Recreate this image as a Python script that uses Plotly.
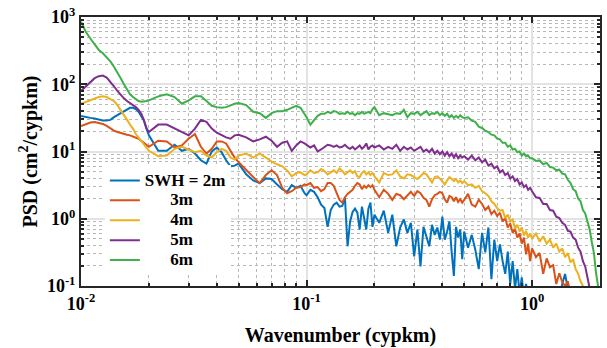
import numpy as np
import plotly.graph_objects as go

# Wavenumber sampling (cycles per km)
wavenumber = [
    0.0100, 0.0105, 0.0110, 0.0115, 0.0120, 0.0125, 0.0130, 0.0135, 0.0140, 0.0145,
    0.0150, 0.0155, 0.0160, 0.0165, 0.0170, 0.0175, 0.0180, 0.0185, 0.0190, 0.0195,
    0.020, 0.022, 0.024, 0.026, 0.028, 0.030, 0.032, 0.034, 0.036, 0.038,
    0.040, 0.042, 0.044, 0.046, 0.048,
    0.050, 0.054, 0.058, 0.062, 0.066, 0.070, 0.074, 0.078, 0.082, 0.086,
    0.090, 0.094, 0.098,
    0.100, 0.104, 0.108, 0.112, 0.116, 0.120, 0.124, 0.128, 0.132, 0.136,
    0.140, 0.144, 0.148, 0.152, 0.156, 0.160, 0.164, 0.168, 0.172, 0.176,
    0.180, 0.184, 0.188, 0.192, 0.196,
    0.20, 0.21, 0.22, 0.23, 0.24, 0.25, 0.26, 0.27, 0.28, 0.29,
    0.30, 0.31, 0.32, 0.33, 0.34, 0.35, 0.36, 0.37, 0.38, 0.39,
    0.40, 0.41, 0.42, 0.43, 0.44, 0.45, 0.46, 0.47, 0.48, 0.49,
    0.50, 0.52, 0.54, 0.56, 0.58, 0.60, 0.62, 0.64, 0.66, 0.68,
    0.70, 0.72, 0.74, 0.76, 0.78, 0.80, 0.82, 0.84, 0.86, 0.88,
    0.90, 0.92, 0.94, 0.96, 0.98,
    1.00, 1.04, 1.08, 1.12, 1.16, 1.20, 1.24, 1.28, 1.32, 1.36,
    1.40, 1.44, 1.48, 1.52, 1.56, 1.60, 1.64, 1.68, 1.72, 1.76,
    1.80, 1.84, 1.88, 1.92, 1.96, 2.00,
]

# log10 of PSD (cm^2/cypkm) for each significant wave height
log_psd_2m = [
    1.53, 1.51, 1.50, 1.49, 1.47, 1.46, 1.46, 1.47, 1.51, 1.54, 1.57, 1.60, 1.63, 1.65, 1.65, 1.63, 1.59, 1.53, 1.46, 1.34,
    1.24, 1.01, 1.01, 1.10, 1.01, 1.04, 0.97, 0.87, 0.82, 1.00, 1.06, 0.99, 0.87, 0.78, 0.79,
    0.82, 0.66, 0.57, 0.53, 0.60, 0.59, 0.51, 0.44, 0.40, 0.50, 0.46, 0.49, 0.38,
    0.35, 0.43, 0.40, 0.32, 0.21, 0.16, -0.12, 0.13, 0.21, 0.24, 0.18, 0.19, 0.31, -0.41, -0.04, 0.10, 0.15, 0.09, -0.16, 0.18,
    0.01, -0.16, 0.15, 0.24, -0.12,
    0.06, -0.06, 0.12, -0.21, 0.06, -0.41, -0.13, -0.01, -0.21, -0.06, -0.56, -0.16, -0.71, -0.12, -0.28, -0.41, -0.09, -0.24,
    -0.13, -0.31, 0.03, -0.31, -0.19, -0.04, -0.50, -0.85, -0.12, -0.28, -0.16, -0.60,
    -0.19, -0.43, -0.24, -0.46, -0.75, -0.21, -0.50, -0.13, -0.90, -0.31, -0.63, -0.38, -0.63, -0.82, -0.49, -0.97, -0.63,
    -1.04, -0.75, -1.12, -0.87, -1.19, -0.97, -1.16, -1.26,
    -1.12, -1.26, -1.19, -1.34, -1.19, -1.34, -1.26, -1.34, -1.26, -0.97, -0.82, -1.07, -1.26, -1.34, -1.34, -1.34, -1.34,
    -1.34, -1.34, -1.34, -1.34, -1.34, -1.34, -1.34, -1.34, -1.34,
]
log_psd_3m = [
    1.38, 1.41, 1.43, 1.44, 1.43, 1.41, 1.38, 1.34, 1.31, 1.29, 1.28, 1.26, 1.25, 1.24, 1.22, 1.21, 1.19, 1.16, 1.13, 1.10,
    1.07, 1.16, 1.15, 1.06, 1.09, 1.19, 1.26, 1.07, 0.97, 1.04, 1.15, 1.15, 1.12, 1.01, 0.91,
    0.84, 0.72, 0.62, 0.53, 0.65, 0.72, 0.65, 0.46, 0.38, 0.41, 0.46, 0.47, 0.51,
    0.50, 0.53, 0.46, 0.47, 0.41, 0.44, 0.53, 0.53, 0.49, 0.37, 0.28, 0.24, 0.32, 0.37, 0.40, 0.43, 0.49, 0.53, 0.51, 0.44,
    0.49, 0.46, 0.50, 0.47, 0.50,
    0.43, 0.32, 0.43, 0.37, 0.28, 0.37, 0.35, 0.29, 0.35, 0.40, 0.34, 0.41, 0.38, 0.31, 0.28, 0.18, 0.29, 0.35, 0.37, 0.40,
    0.38, 0.29, 0.24, 0.34, 0.32, 0.26, 0.32, 0.25, 0.29, 0.24,
    0.28, 0.37, 0.21, 0.18, 0.28, 0.22, 0.13, 0.18, 0.07, 0.12, 0.04, 0.09, -0.04, 0.01, -0.13, -0.07, -0.21, -0.15, -0.28,
    -0.22, -0.37, -0.28, -0.53, -0.37, -0.63,
    -0.44, -0.57, -0.51, -0.82, -0.59, -0.72, -0.69, -0.97, -0.81, -0.94, -1.00, -0.93, -1.12, -1.19, -1.26, -1.30, -1.30,
    -1.30, -1.30, -1.30, -1.30, -1.30, -1.30, -1.30, -1.30, -1.30,
]
log_psd_4m = [
    1.71, 1.74, 1.76, 1.79, 1.81, 1.82, 1.81, 1.78, 1.75, 1.69, 1.62, 1.54, 1.47, 1.40, 1.34, 1.26, 1.21, 1.15, 1.10, 1.06,
    1.01, 0.93, 0.94, 1.04, 1.07, 1.03, 0.99, 1.01, 0.94, 0.91, 0.99, 1.04, 1.01, 0.91, 0.88,
    0.94, 0.97, 0.91, 0.97, 0.91, 0.85, 0.81, 0.78, 0.72, 0.63, 0.68, 0.69, 0.65,
    0.66, 0.72, 0.68, 0.69, 0.74, 0.71, 0.66, 0.69, 0.72, 0.68, 0.75, 0.71, 0.66, 0.69, 0.72, 0.68, 0.71, 0.63, 0.62, 0.68,
    0.71, 0.66, 0.69, 0.65, 0.68,
    0.63, 0.54, 0.68, 0.65, 0.66, 0.72, 0.63, 0.60, 0.66, 0.65, 0.62, 0.59, 0.63, 0.68, 0.66, 0.60, 0.54, 0.62, 0.63, 0.60,
    0.56, 0.51, 0.57, 0.62, 0.59, 0.56, 0.59, 0.54, 0.57, 0.53,
    0.56, 0.50, 0.51, 0.46, 0.49, 0.41, 0.38, 0.34, 0.26, 0.22, 0.16, 0.12, 0.13, 0.01, 0.06, -0.04, -0.01, -0.15, -0.09,
    -0.19, -0.13, -0.25, -0.18, -0.28, -0.22,
    -0.29, -0.22, -0.34, -0.26, -0.37, -0.31, -0.43, -0.37, -0.49, -0.44, -0.57, -0.51, -0.65, -0.60, -0.75, -0.82, -0.93,
    -1.00, -1.12, -1.19, -1.26, -1.26, -1.26, -1.26, -1.26, -1.26,
]
log_psd_5m = [
    1.90, 1.97, 2.03, 2.09, 2.12, 2.13, 2.10, 2.04, 1.97, 1.90, 1.84, 1.79, 1.75, 1.72, 1.69, 1.66, 1.62, 1.56, 1.47, 1.35,
    1.29, 1.40, 1.40, 1.34, 1.29, 1.24, 1.34, 1.47, 1.44, 1.34, 1.28, 1.24, 1.21, 1.19, 1.24,
    1.25, 1.21, 1.15, 1.18, 1.22, 1.16, 1.07, 1.13, 1.15, 1.01, 1.09, 1.15, 1.12,
    1.10, 1.06, 1.09, 1.00, 1.03, 1.07, 1.10, 1.09, 1.07, 1.09, 1.06, 1.07, 1.10, 1.06, 1.04, 1.07, 1.03, 1.06, 1.09, 1.04,
    1.07, 1.12, 1.03, 1.07, 1.09,
    1.06, 1.09, 1.03, 1.07, 1.04, 1.10, 1.01, 1.07, 1.03, 1.06, 1.01, 1.04, 1.07, 1.00, 1.03, 0.99, 1.04, 0.97, 1.01, 0.96,
    1.00, 0.94, 0.99, 0.93, 0.97, 0.91, 0.96, 0.90, 0.94, 0.91,
    0.93, 0.88, 0.94, 0.87, 0.91, 0.84, 0.88, 0.79, 0.82, 0.75, 0.78, 0.69, 0.72, 0.65, 0.68, 0.60, 0.63, 0.56, 0.59, 0.51,
    0.54, 0.47, 0.50, 0.43, 0.46,
    0.41, 0.32, 0.31, 0.22, 0.22, 0.13, 0.12, 0.03, 0.01, -0.06, -0.09, -0.18, -0.19, -0.28, -0.31, -0.43, -0.49, -0.63,
    -0.71, -0.90, -1.04, -1.19, -1.26, -1.34, -1.34, -1.34,
]
log_psd_6m = [
    2.93, 2.78, 2.68, 2.59, 2.51, 2.46, 2.40, 2.34, 2.26, 2.18, 2.09, 2.00, 1.93, 1.85, 1.81, 1.78, 1.75, 1.74, 1.74, 1.75,
    1.76, 1.82, 1.85, 1.81, 1.71, 1.76, 1.82, 1.82, 1.75, 1.68, 1.66, 1.65, 1.66, 1.69, 1.71,
    1.72, 1.69, 1.59, 1.57, 1.50, 1.57, 1.60, 1.60, 1.62, 1.65, 1.68, 1.65, 1.56,
    1.51, 1.40, 1.46, 1.53, 1.56, 1.56, 1.59, 1.57, 1.60, 1.59, 1.56, 1.57, 1.56, 1.59, 1.56, 1.57, 1.54, 1.57, 1.56, 1.59,
    1.56, 1.57, 1.59, 1.57, 1.63,
    1.66, 1.54, 1.57, 1.56, 1.54, 1.57, 1.56, 1.62, 1.51, 1.57, 1.56, 1.59, 1.54, 1.57, 1.60, 1.54, 1.57, 1.56, 1.59, 1.54,
    1.57, 1.53, 1.56, 1.51, 1.54, 1.50, 1.53, 1.50, 1.54, 1.51,
    1.50, 1.51, 1.46, 1.44, 1.37, 1.35, 1.31, 1.29, 1.25, 1.24, 1.19, 1.18, 1.13, 1.13, 1.07, 1.09, 1.03, 1.04, 0.99, 1.00,
    0.94, 0.97, 0.93, 0.94, 0.90,
    0.90, 0.86, 0.87, 0.81, 0.83, 0.77, 0.76, 0.72, 0.73, 0.67, 0.66, 0.58, 0.53, 0.44, 0.41, 0.30, 0.26, 0.13, 0.08,
    -0.06, -0.16, -0.35, -0.51, -0.80, -1.04, -1.19,
]

NB = "\u00a0" * 6
series_names = ["SWH = 2m", NB + "3m", NB + "4m", NB + "5m", NB + "6m"]
series_logs = [log_psd_2m, log_psd_3m, log_psd_4m, log_psd_5m, log_psd_6m]
series_colors = ["#0072BD", "#D95319", "#EDB120", "#7E2F8E", "#3DB04A"]

x_major = [0.01, 0.1, 1]
x_major_text = ["10<sup>-2</sup>", "10<sup>-1</sup>", "10<sup>0</sup>"]
y_major = [0.1, 1, 10, 100, 1000]
y_major_text = ["10<sup>-1</sup>", "10<sup>0</sup>", "10<sup>1</sup>", "10<sup>2</sup>", "10<sup>3</sup>"]
x_minor = [m * d for d in (0.01, 0.1, 1) for m in range(2, 10)]
y_minor = [m * d for d in (0.1, 1, 10, 100) for m in range(2, 10)]

fig = go.Figure()
for name, logs, color in zip(series_names, series_logs, series_colors):
    fig.add_trace(go.Scatter(
        x=wavenumber, y=np.power(10.0, logs), mode="lines",
        name='<span style="font-size:17px">' + name + "</span>",
        line=dict(color=color, width=2),
    ))

FONT = "Liberation Serif"
axis_common = dict(
    type="log", showline=True, linecolor="#262626", linewidth=2, mirror="allticks",
    ticks="inside", ticklen=6, tickwidth=1.5, tickcolor="#262626",
    showgrid=True, gridcolor="#e3e3e3", gridwidth=1.5, zeroline=False,
    tickfont=dict(family=FONT, size=18, color="black", weight="bold"),
)
fig.update_xaxes(
    **axis_common, range=[-2, np.log10(2.0)], tickmode="array",
    tickvals=x_major, ticktext=x_major_text,
    minor=dict(tickmode="array", tickvals=x_minor, ticks="inside", ticklen=3,
               tickcolor="#262626", showgrid=True, gridcolor="#b8b8b8", griddash="dot", gridwidth=1),
    title=dict(text="Wavenumber (cypkm)", font=dict(family=FONT, size=20, color="black", weight="bold"),
               standoff=15),
)
fig.update_yaxes(
    **axis_common, range=[-1, 3], tickmode="array",
    tickvals=y_major, ticktext=y_major_text,
    minor=dict(tickmode="array", tickvals=y_minor, ticks="inside", ticklen=3,
               tickcolor="#262626", showgrid=True, gridcolor="#b8b8b8", griddash="dot", gridwidth=1),
    title=dict(text="PSD (cm<sup>2</sup>/cypkm)", font=dict(family=FONT, size=20, color="black", weight="bold"),
               standoff=4),
)

fig.update_layout(
    width=607, height=348,
    margin=dict(l=81, r=5, t=15, b=61),
    paper_bgcolor="white", plot_bgcolor="white",
    font=dict(family=FONT, color="black", weight="bold"),
    legend=dict(
        x=0.046, y=0.448, xanchor="left", yanchor="top",
        bgcolor="white", borderwidth=0,
        font=dict(family=FONT, size=13, color="black", weight="bold"),
        tracegroupgap=0,
    ),
)

fig.write_html("out.html")
